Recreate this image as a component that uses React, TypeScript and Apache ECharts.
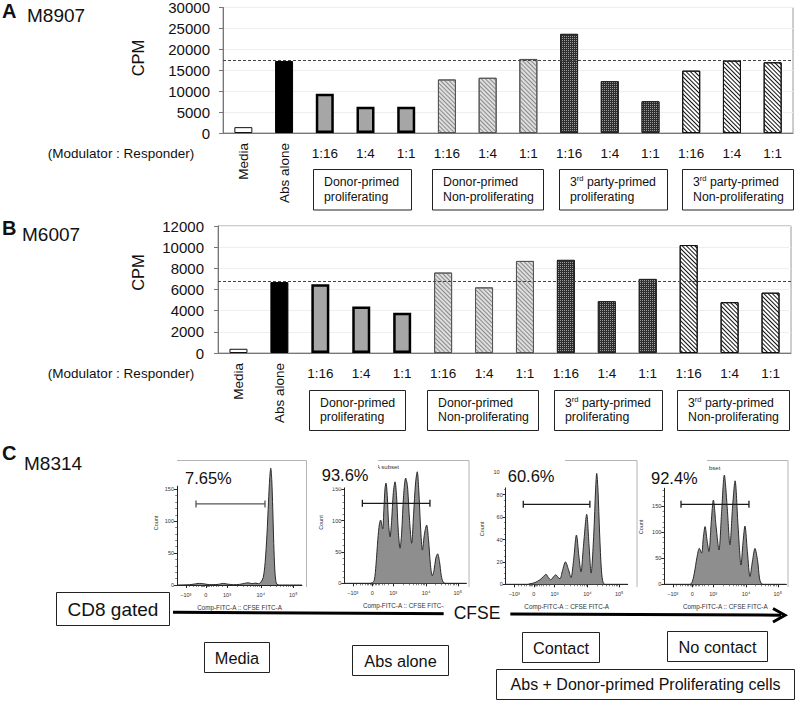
import React, { useEffect, useRef } from "react";
import * as echarts from "echarts";

const FONT = "'Liberation Sans', Arial, Helvetica, sans-serif";

// ---------------- Panels A & B : data ----------------
const CATEGORIES = ["Media", "Abs alone", "1:16", "1:4", "1:1", "1:16", "1:4", "1:1", "1:16", "1:4", "1:1", "1:16", "1:4", "1:1"];
const CATEGORY_GROUP = ["media", "abs", "dp", "dp", "dp", "dnp", "dnp", "dnp", "tp", "tp", "tp", "tnp", "tnp", "tnp"];
const CPM_M8907 = [1400, 17200, 9400, 6300, 6300, 12800, 13200, 17700, 23700, 12400, 7600, 14900, 17300, 16900];
const CPM_M6007 = [400, 6700, 6500, 4400, 3800, 7600, 6200, 8700, 8800, 4900, 7000, 10200, 4800, 5700];
const ABS_ALONE_REF_M8907 = 17300;
const ABS_ALONE_REF_M6007 = 6800;
const Y_MAX_A = 30000;
const Y_STEP_A = 5000;
const Y_MAX_B = 12000;
const Y_STEP_B = 2000;
const GROUP_BOX_LABELS = [
  ["Donor-primed", "proliferating"],
  ["Donor-primed", "Non-proliferating"],
  ["3rd party-primed", "proliferating"],
  ["3rd party-primed", "Non-proliferating"],
];
const RATIO_TITLE = "(Modulator : Responder)";

// ---------------- Panel C : data ----------------
const CFSE_TICK_POS = [7, 23, 40, 67, 93];
const CFSE_TICK_LABELS = ["−10³", "0", "10³", "10⁴", "10⁵"];
const HIST_MEDIA = [[0, 0], [10, 0.5], [14, 1.5], [18, 2.5], [21, 2], [24, 1], [28, 0.5], [33, 1], [37, 2.5], [40, 1.5], [45, 0.5], [50, 1], [54, 2.5], [57, 3.5], [60, 2], [63, 3], [65, 2], [67, 4], [69, 12], [70.5, 35], [72, 80], [73.2, 130], [74.2, 168], [75, 183], [75.8, 165], [76.6, 120], [77.4, 65], [78.2, 25], [79, 7], [80, 1], [82, 0], [100, 0]];
const HIST_ABS = [[0, 0], [20, 0], [23, 1], [24.6, 5], [26, 30], [27.5, 70], [28.8, 95], [29.8, 101], [30.8, 92], [31.5, 87], [32.5, 120], [33.4, 152], [34.2, 160], [35.2, 140], [36.3, 95], [37.5, 74], [38.8, 100], [40.2, 145], [41.6, 162], [42.8, 140], [44.2, 85], [45.7, 56], [47, 80], [48.6, 140], [50.3, 168], [51.2, 162], [52, 150], [53.5, 100], [55.2, 64], [56.8, 110], [58.4, 160], [59.8, 178], [61, 150], [62.5, 90], [64, 53], [65.8, 80], [67.5, 93], [69, 70], [70.6, 30], [72.1, 12], [73.5, 20], [75, 40], [76.5, 47], [78, 35], [79.5, 12], [81, 2], [83, 0], [100, 0]];
const HIST_CONTACT = [[0, 0], [18, 0], [20, 0.5], [24, 1.5], [28, 4], [31, 7], [33, 9], [35, 6], [37, 4], [39, 6.5], [41, 8.5], [43, 6], [44.5, 5], [46.5, 12], [49, 20], [51.5, 13], [53.5, 6], [55.5, 20], [58, 44], [60, 25], [61.7, 11], [63.8, 35], [66.4, 62.5], [68.3, 35], [70, 10], [72.2, 45], [73.7, 85], [74.6, 99], [75.6, 85], [77, 45], [78.5, 12], [80, 1], [82, 0], [100, 0]];
const HIST_NO_CONTACT = [[0, 0], [20, 0], [22.4, 2], [24.5, 20], [26.8, 52], [28.7, 69], [30.6, 60], [32, 90], [33.4, 111], [35, 85], [36.6, 63], [38.5, 120], [40.2, 162], [42.5, 110], [44.8, 66], [47, 140], [49.2, 210], [51.5, 150], [53.8, 76], [56, 150], [58, 199], [60.5, 110], [62.9, 37], [64.5, 80], [66.1, 112], [68.2, 60], [70.2, 15], [72.3, 45], [74.3, 69], [76.5, 45], [78, 12], [79.3, 2], [81, 0], [100, 0]];
const HISTS = [HIST_MEDIA, HIST_ABS, HIST_CONTACT, HIST_NO_CONTACT];
const GATES = [[15.2, 70.4, 127], [14.8, 70.2, 127.7], [14.4, 69, 71.4], [13.7, 69.4, 153.8]];
const PERCENTS = ["7.65%", "93.6%", "60.6%", "92.4%"];
const COUNT_TICKS = [[0, 50, 100, 150], [0, 50, 100, 150], [0, 20, 40, 60, 80, 100], [0, 50, 100, 150]];
const COUNT_MAX = [155, 155, 100, 185];
const COUNT_MINOR_STEP = [10, 10, 5, 10];
const CONDITION_LABELS = ["Media", "Abs alone", "Contact", "No contact"];
const COMBINED_LABEL = "Abs + Donor-primed Proliferating cells";
const GATED_LABEL = "CD8 gated";
const CFSE_LABEL = "CFSE";
const HIST_AXIS_NAME = "Comp-FITC-A :: CFSE FITC-A";

// ---------------- layout (positions / styles) ----------------
const BAR_STYLE: Record<string, any> = {
  media: { color: "#ffffff", borderColor: "#111", borderWidth: 1 },
  abs: { color: "#000000", borderColor: "#000", borderWidth: 1 },
  dp: { color: "#a6a6a6", borderColor: "#000", borderWidth: 2.5 },
  dnp: { color: "#dedede", borderColor: "#555", borderWidth: 1, decal: { symbol: "rect", color: "#8a8a8a", dashArrayX: [1, 0], dashArrayY: [1, 2], rotation: Math.PI / 4 } },
  tp: { color: "#2e2e2e", borderColor: "#222", borderWidth: 1, decal: { symbol: "rect", color: "#9a9a9a", dashArrayX: [1, 1], dashArrayY: [1, 1], rotation: 0 } },
  tnp: { color: "#ffffff", borderColor: "#111", borderWidth: 1, decal: { symbol: "rect", color: "#111", dashArrayX: [1, 0], dashArrayY: [1, 1.8], rotation: Math.PI / 4 } },
};
const GROUP_ORDER = ["media", "abs", "dp", "dnp", "tp", "tnp"];
const BOXES_A = [[313, 411], [432, 543], [559, 667], [682, 793]];
const BOXES_B = [[309, 405], [427, 538], [554, 662], [677, 789]];
const HIST_LAYOUT = [
  { left: 177, width: 125, top: 486.1, height: 98.9 },
  { left: 344.3, width: 122, top: 486.2, height: 97.1 },
  { left: 505.7, width: 122, top: 472.3, height: 112 },
  { left: 664.3, width: 122, top: 488.1, height: 96.2 },
];
const HIST_FRAMES = [[177, 306.5], [378, 469], [565, 637], [707, 788]];
const HIST_COVERS = [null, [317, 378], [500, 565], [645, 707]];
const PCT_POS = [[185, 478], [321.7, 475], [507.7, 475.7], [651, 477.7]];
const COUNT_POS = [[156, 523], [321, 522.5], [482.3, 529], [641, 527]];
const COND_BOXES = [[204, 642, 65, 30], [352, 645, 96, 30], [522, 632, 77, 30], [667, 631, 100, 30]];

const CFSE_MINOR = (() => {
  const out: number[] = [10, 13, 15, 17, 19, 20, 21, 22, 24, 25, 26, 27.5, 29, 31, 33, 36];
  for (let k = 2; k <= 9; k++) {
    out.push(40 + 27 * Math.log10(k));
    out.push(67 + 26 * Math.log10(k));
  }
  return out;
})();

function font(size: number, bold = false) {
  return `${bold ? "bold " : ""}${size}px ${FONT}`;
}

function txt(x: number, y: number, text: string, size: number, o: any = {}) {
  const align = o.align || "left";
  const va = o.va || "middle";
  return {
    type: "text",
    x,
    y,
    z: o.z ?? 60,
    rotation: o.rot || 0,
    style: {
      text,
      font: font(size, o.bold),
      fill: o.color || "#111",
      textAlign: align,
      align,
      textVerticalAlign: va,
      verticalAlign: va,
      backgroundColor: o.bg,
      padding: o.pad,
    },
  };
}

function rect(x: number, y: number, w: number, h: number, o: any = {}) {
  return {
    type: "rect",
    z: o.z ?? 50,
    shape: { x, y, width: w, height: h },
    style: { fill: o.fill ?? "#fff", stroke: o.stroke === undefined ? "#222" : o.stroke, lineWidth: o.lw ?? 1 },
  };
}

function richLine(line: string) {
  if (line.startsWith("3rd")) return `{n|3}{s|rd}{n|${line.slice(3)}}`;
  return `{n|${line}}`;
}

function groupBoxes(boxes: number[][], y0: number, h: number) {
  const out: any[] = [];
  boxes.forEach((b, i) => {
    out.push(rect(b[0] + 0.5, y0 + 0.5, b[1] - b[0], h));
    out.push({
      type: "text",
      x: b[0] + 11,
      y: y0 + h / 2,
      z: 60,
      style: {
        text: GROUP_BOX_LABELS[i].map(richLine).join("\n"),
        textAlign: "left",
        align: "left",
        textVerticalAlign: "middle",
        verticalAlign: "middle",
        rich: {
          n: { fontSize: 12.3, fontFamily: FONT, fill: "#111", lineHeight: 14.5 },
          s: { fontSize: 7.5, fontFamily: FONT, fill: "#111", lineHeight: 9, verticalAlign: "top" },
        },
      },
    });
  });
  return out;
}

function barSeries(values: number[], xIdx: number, yIdx: number, ref: number) {
  return GROUP_ORDER.map((g, k) => ({
    type: "bar",
    xAxisIndex: xIdx,
    yAxisIndex: yIdx,
    barWidth: 18,
    barGap: "-100%",
    data: values.map((v, i) => (CATEGORY_GROUP[i] === g ? v : "-")),
    itemStyle: BAR_STYLE[g],
    markLine:
      k === 0
        ? {
            silent: true,
            symbol: "none",
            label: { show: false },
            lineStyle: { type: [3, 2], color: "#444", width: 1 },
            data: [{ yAxis: ref }],
          }
        : undefined,
  }));
}

function barAxes(gridIndex: number, yMax: number, yStep: number, yMargin: number) {
  const xMain = {
    type: "category",
    gridIndex,
    position: "bottom",
    data: CATEGORIES,
    axisLine: { lineStyle: { color: "#777" } },
    axisTick: { length: 5, lineStyle: { color: "#777" } },
    axisLabel: {
      interval: 0,
      margin: 13,
      fontSize: 13.5,
      fontFamily: FONT,
      color: "#111",
      formatter: (v: string, i: number) => (i < 2 ? "" : v),
    },
  };
  const xRot = {
    type: "category",
    gridIndex,
    position: "bottom",
    data: CATEGORIES,
    axisLine: { show: false },
    axisTick: { show: false },
    axisLabel: {
      interval: 0,
      rotate: 90,
      margin: 10,
      fontSize: 13.5,
      fontFamily: FONT,
      color: "#111",
      formatter: (v: string, i: number) => (i < 2 ? v : ""),
    },
  };
  const y = {
    type: "value",
    gridIndex,
    min: 0,
    max: yMax,
    interval: yStep,
    axisLine: { show: true, lineStyle: { color: "#777" } },
    axisTick: { show: true, length: 4, lineStyle: { color: "#777" } },
    axisLabel: { margin: yMargin, fontSize: 15, fontFamily: FONT, color: "#111", formatter: (v: number) => String(v) },
    splitLine: { show: true, lineStyle: { color: "#eeeeee" } },
  };
  return { xMain, xRot, y };
}

function buildOption() {
  const grids: any[] = [
    { left: 223, top: 5, width: 570, height: 128, show: true, borderColor: "#9a9a9a", borderWidth: 1 },
    { left: 218, top: 226, width: 573, height: 127, show: true, borderColor: "#9a9a9a", borderWidth: 1 },
  ];
  const a = barAxes(0, Y_MAX_A, Y_STEP_A, 13);
  const b = barAxes(1, Y_MAX_B, Y_STEP_B, 14);
  const xAxes: any[] = [a.xMain, a.xRot, b.xMain, b.xRot];
  const yAxes: any[] = [a.y, b.y];
  const series: any[] = [
    ...barSeries(CPM_M8907, 0, 0, ABS_ALONE_REF_M8907),
    ...barSeries(CPM_M6007, 2, 1, ABS_ALONE_REF_M6007),
  ];

  const histMainX: any[] = [];
  const histMinorX: any[] = [];
  const histMainY: any[] = [];
  const histMinorY: any[] = [];
  HIST_LAYOUT.forEach((L, i) => {
    const g = 2 + i;
    grids.push({ left: L.left, top: L.top, width: L.width, height: L.height });
    histMainX.push({
      type: "value",
      gridIndex: g,
      position: "bottom",
      min: 0,
      max: 100,
      axisLine: { lineStyle: { color: "#222", width: 1 } },
      axisTick: { show: true, customValues: CFSE_TICK_POS, length: 3, lineStyle: { color: "#222" } },
      axisLabel: {
        customValues: CFSE_TICK_POS,
        formatter: (v: number) => {
          const k = CFSE_TICK_POS.findIndex((p) => Math.abs(p - v) < 0.01);
          return k >= 0 ? CFSE_TICK_LABELS[k] : "";
        },
        fontSize: 5.5,
        fontFamily: FONT,
        color: "#333",
        margin: 7,
      },
      splitLine: { show: false },
      name: HIST_AXIS_NAME,
      nameLocation: "middle",
      nameGap: 19,
      nameTextStyle: { fontSize: 6.3, color: "#333", fontFamily: FONT },
    });
    histMinorX.push({
      type: "value",
      gridIndex: g,
      position: "bottom",
      min: 0,
      max: 100,
      axisLine: { show: false },
      axisLabel: { show: false },
      axisTick: { show: true, customValues: CFSE_MINOR, length: 2, lineStyle: { color: "#333", width: 0.6 } },
      splitLine: { show: false },
    });
    const minors: number[] = [];
    for (let v = 0; v <= COUNT_MAX[i]; v += COUNT_MINOR_STEP[i]) minors.push(v);
    histMainY.push({
      type: "value",
      gridIndex: g,
      position: "left",
      min: 0,
      max: COUNT_MAX[i],
      axisLine: { show: true, lineStyle: { color: "#222", width: 1 } },
      axisTick: { show: true, customValues: COUNT_TICKS[i], length: 3, lineStyle: { color: "#222" } },
      axisLabel: { customValues: COUNT_TICKS[i], fontSize: 5.5, fontFamily: FONT, color: "#333", margin: 3 },
      splitLine: { show: false },
    });
    histMinorY.push({
      type: "value",
      gridIndex: g,
      position: "left",
      min: 0,
      max: COUNT_MAX[i],
      axisLine: { show: false },
      axisLabel: { show: false },
      axisTick: { show: true, customValues: minors, length: 1.8, lineStyle: { color: "#333", width: 0.6 } },
      splitLine: { show: false },
    });
  });
  xAxes.push(...histMainX, ...histMinorX);
  yAxes.push(...histMainY, ...histMinorY);

  HISTS.forEach((h, i) => {
    series.push({
      type: "line",
      xAxisIndex: 4 + i,
      yAxisIndex: 2 + i,
      data: h,
      showSymbol: false,
      symbol: "none",
      smooth: 0.3,
      clip: false,
      lineStyle: { color: "#2a2a2a", width: 1 },
      areaStyle: { color: "#8e8e8e", opacity: 1 },
      z: 3,
    });
    const gt = GATES[i];
    const gc = i === 0 ? "#555" : "#1a1a1a";
    series.push({
      type: "line",
      xAxisIndex: 4 + i,
      yAxisIndex: 2 + i,
      data: [[gt[0], gt[2]], [gt[1], gt[2]]],
      symbol: "rect",
      symbolSize: [1.3, 7],
      showSymbol: true,
      clip: false,
      itemStyle: { color: gc },
      lineStyle: { color: gc, width: 1.3 },
      z: 4,
    });
  });

  const graphics: any[] = [
    txt(2, 11, "A", 20, { bold: true }),
    txt(27, 15, "M8907", 19),
    txt(2, 228, "B", 20, { bold: true }),
    txt(22, 234, "M6007", 19),
    txt(2, 453, "C", 20, { bold: true }),
    txt(24, 463.5, "M8314", 19),
    txt(138, 58, "CPM", 16.5, { align: "center", rot: Math.PI / 2 }),
    txt(138, 272.5, "CPM", 16.5, { align: "center", rot: Math.PI / 2 }),
    txt(121, 153, RATIO_TITLE, 13.5, { align: "center" }),
    txt(121, 373, RATIO_TITLE, 13.5, { align: "center" }),
    ...groupBoxes(BOXES_A, 169, 40.5),
    ...groupBoxes(BOXES_B, 390, 40),
  ];

  HIST_FRAMES.forEach((f) => {
    graphics.push({
      type: "polyline",
      z: 1,
      shape: { points: [[f[0], 460.5], [f[1], 460.5], [f[1], 587]] },
      style: { stroke: "#b4b4b4", lineWidth: 1, fill: null },
    });
  });
  graphics.push(txt(376, 467, "A subset", 6, { z: 40, color: "#333" }));
  graphics.push(txt(709, 468, "bset", 6, { z: 40, color: "#333" }));
  HIST_COVERS.forEach((c) => {
    if (c) graphics.push(rect(c[0], 456, c[1] - c[0], 31.5, { stroke: null, z: 55 }));
  });
  PERCENTS.forEach((p, i) => graphics.push(txt(PCT_POS[i][0], PCT_POS[i][1], p, 16.5, { z: 60 })));
  COUNT_POS.forEach((c) => graphics.push(txt(c[0], c[1], "Count", 5.5, { align: "center", rot: Math.PI / 2, color: "#333" })));

  // CFSE arrow
  graphics.push({ type: "line", z: 45, shape: { x1: 173, y1: 612.3, x2: 781, y2: 615.2 }, style: { stroke: "#000", lineWidth: 3 } });
  graphics.push({ type: "polyline", z: 45, shape: { points: [[773, 608.5], [785, 615.3], [773, 622]] }, style: { stroke: "#000", lineWidth: 3, fill: null } });
  graphics.push(txt(477, 613, CFSE_LABEL, 17.5, { align: "center", bg: "#fff", pad: [3, 10, 3, 10], z: 65 }));

  // CD8 gated + condition boxes
  graphics.push(rect(56.5, 592.5, 113, 33));
  graphics.push(txt(113, 609, GATED_LABEL, 19, { align: "center" }));
  COND_BOXES.forEach((bx, i) => {
    graphics.push(rect(bx[0] + 0.5, bx[1] + 0.5, bx[2], bx[3]));
    graphics.push(txt(bx[0] + bx[2] / 2 + 0.5, bx[1] + bx[3] / 2 + 0.5, CONDITION_LABELS[i], 16.3, { align: "center" }));
  });
  graphics.push(rect(496.5, 669.5, 298, 30));
  graphics.push(txt(645.5, 684.5, COMBINED_LABEL, 16, { align: "center" }));

  return {
    animation: false,
    backgroundColor: "#ffffff",
    textStyle: { fontFamily: FONT },
    grid: grids,
    xAxis: xAxes,
    yAxis: yAxes,
    series,
    graphic: { elements: graphics },
  };
}

export default function App() {
  const ref = useRef<HTMLDivElement>(null);
  useEffect(() => {
    document.body.style.margin = "0";
    if (!ref.current) return;
    const chart = echarts.init(ref.current, null, { renderer: "svg" });
    chart.setOption(buildOption() as any);
    return () => chart.dispose();
  }, []);
  return <div ref={ref} style={{ width: 799, height: 701 }} />;
}
